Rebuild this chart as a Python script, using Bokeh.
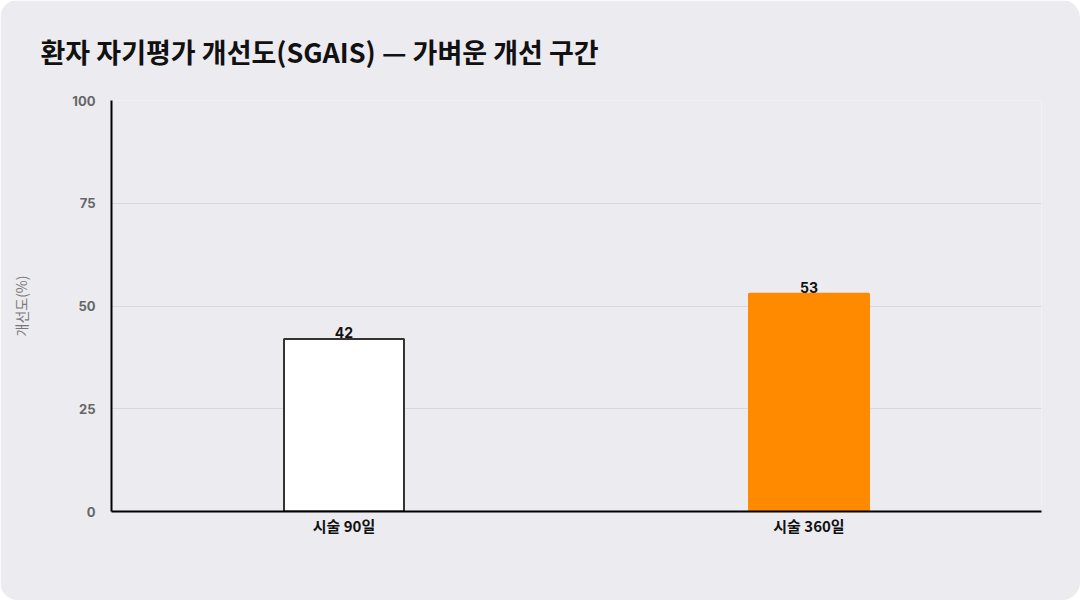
from bokeh.plotting import figure
from bokeh.models import ColumnDataSource, FixedTicker, LabelSet, Title
from bokeh.embed import file_html
from bokeh.resources import INLINE
from bokeh.core.properties import value

categories = ["시술 90일", "시술 360일"]
values = [42, 53]
fill_colors = ["#ffffff", "#ff8a00"]
line_colors = ["#333333", "#ff8a00"]
y_ticks = [0, 25, 50, 75, 100]
title_text = "환자 자기평가 개선도(SGAIS) — 가벼운 개선 구간"

BG = "#ecebf0"

src = ColumnDataSource(dict(cat=categories, val=values, fill=fill_colors,
                            line=line_colors, lbl=[str(v) for v in values]))

p = figure(x_range=categories, y_range=(0, 100), width=1080, height=600,
           output_backend="svg", toolbar_location=None,
           background_fill_color=BG, border_fill_color=BG,
           min_border_left=111, min_border_right=39, min_border_top=100,
           min_border_bottom=89, outline_line_color=None)
p.styles = {"border-radius": "18px", "overflow": "hidden"}

p.vbar(x="cat", top="val", width=0.258, source=src, fill_color="fill",
       line_color="line", line_width=2)

labels = LabelSet(x="cat", y="val", text="lbl", source=src, text_align="center",
                  text_baseline="bottom", y_offset=1, text_font=value("Inter"),
                  text_font_style="bold", text_font_size="14px", text_color="#111111")
p.add_layout(labels)

t = Title(text=title_text, text_font="Noto Sans CJK KR",
          text_font_size="27px", text_font_style="bold", text_color="#111111",
          offset=-71, standoff=59)
p.add_layout(t, "above")
p.title.visible = False

p.yaxis.ticker = FixedTicker(ticks=y_ticks)
p.yaxis.axis_label = "개선도(%)"
p.yaxis.axis_label_text_font = "Noto Sans CJK KR"
p.yaxis.axis_label_text_font_size = "14px"
p.yaxis.axis_label_text_font_style = "normal"
p.yaxis.axis_label_text_color = "#777777"
p.yaxis.axis_label_standoff = 38
p.yaxis.major_label_text_font = "Inter"
p.yaxis.major_label_text_font_size = "13px"
p.yaxis.major_label_text_font_style = "bold"
p.yaxis.major_label_text_color = "#666666"
p.yaxis.major_label_standoff = 10
p.yaxis.major_tick_line_color = None
p.yaxis.minor_tick_line_color = None
p.yaxis.axis_line_color = "#000000"
p.yaxis.axis_line_width = 2

p.xaxis.major_label_text_font = "Noto Sans CJK KR"
p.xaxis.major_label_text_font_size = "15px"
p.xaxis.major_label_text_font_style = "bold"
p.xaxis.major_label_text_color = "#111111"
p.xaxis.major_label_standoff = -3
p.xaxis.major_tick_line_color = None
p.xaxis.axis_line_color = "#000000"
p.xaxis.axis_line_width = 2

p.xgrid.grid_line_color = None
p.ygrid.grid_line_color = "#d9d8de"
p.ygrid.grid_line_width = 1

open("out.html", "w").write(file_html(p, INLINE))
